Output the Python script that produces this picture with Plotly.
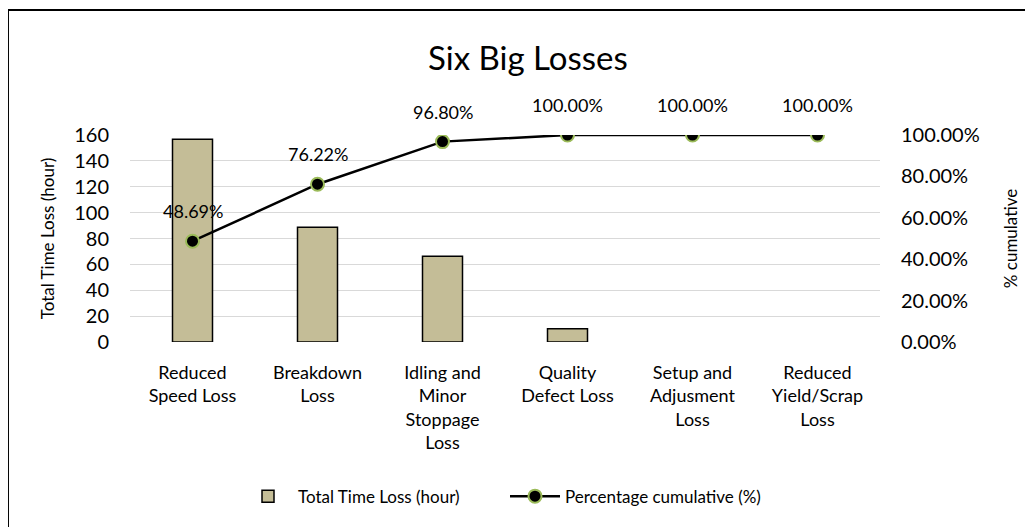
import plotly.graph_objects as go

categories = [
    "Reduced<br>Speed Loss",
    "Breakdown<br>Loss",
    "Idling and<br>Minor<br>Stoppage<br>Loss",
    "Quality<br>Defect Loss",
    "Setup and<br>Adjusment<br>Loss",
    "Reduced<br>Yield/Scrap<br>Loss",
]
time_loss_hours = [156.7, 88.6, 66.2, 10.3, 0, 0]
cumulative_pct = [0.4869, 0.7622, 0.9680, 1.0, 1.0, 1.0]
left_ticks = [0, 20, 40, 60, 80, 100, 120, 140, 160]
right_ticks = [0, 0.2, 0.4, 0.6, 0.8, 1.0]

FONT = "Lato"
TXT = "#000000"

fig = go.Figure()
fig.add_trace(go.Bar(
    x=categories, y=time_loss_hours, name="Total Time Loss (hour)",
    marker=dict(color="#c4bd97",
                line=dict(color="#000000",
                          width=[1.5 if v > 0 else 0 for v in time_loss_hours])),
    width=0.32, yaxis="y",
))
fig.add_trace(go.Scatter(
    x=categories, y=cumulative_pct, name="Percentage cumulative (%)",
    mode="lines+markers", yaxis="y2",
    line=dict(color="#000000", width=2.5),
    marker=dict(color="#000000", size=13, line=dict(color="#9bbb59", width=2)),
))

for c, v in zip(categories, cumulative_pct):
    fig.add_annotation(x=c, y=v, xref="x", yref="y2", text=f"{v*100:.2f}%",
                       showarrow=False, yshift=30,
                       font=dict(family=FONT, size=18, color=TXT))

fig.add_annotation(text="Six Big Losses", xref="paper", yref="paper",
                   x=0.531, y=1.377, xanchor="center", yanchor="middle",
                   showarrow=False, font=dict(family=FONT, size=33, color=TXT))

# chart border
fig.add_shape(type="rect", xref="paper", yref="paper",
              x0=-0.1627, y0=-1.2, x1=1.25, y1=1.604,
              line=dict(color="#000000", width=2), fillcolor="rgba(0,0,0,0)")

fig.update_layout(
    width=1033, height=527,
    margin=dict(l=122, r=161, t=127, b=193, autoexpand=False),
    paper_bgcolor="white", plot_bgcolor="white",
    font=dict(family=FONT, size=18, color=TXT),
    showlegend=True,
    legend=dict(orientation="h", x=0.50, xanchor="center", y=-0.66, yanchor="top",
                font=dict(family=FONT, size=17, color=TXT), itemwidth=50,
                entrywidth=202, entrywidthmode="pixels",
                traceorder="normal"),
    xaxis=dict(range=[-0.5, 5.5], showgrid=False, showline=False, ticks="",
               tickfont=dict(family=FONT, size=18, color=TXT), ticklabelstandoff=18),
    yaxis=dict(range=[0, 160], tickvals=left_ticks, showgrid=True, gridcolor="#d9d9d9",
               gridwidth=1, zeroline=False, showline=False, ticks="",
               tickfont=dict(family=FONT, size=20, color=TXT), ticklabelstandoff=20,
               title=dict(text="Total Time Loss (hour)", standoff=15,
                          font=dict(family=FONT, size=17, color=TXT))),
    yaxis2=dict(range=[0, 1], tickvals=right_ticks, tickformat=".2%", overlaying="y",
                side="right", showgrid=False, zeroline=False, showline=False, ticks="",
                tickfont=dict(family=FONT, size=20, color=TXT), ticklabelstandoff=20,
                title=dict(text="% cumulative", standoff=26,
                           font=dict(family=FONT, size=17, color=TXT))),
)

fig.write_html("out.html")
